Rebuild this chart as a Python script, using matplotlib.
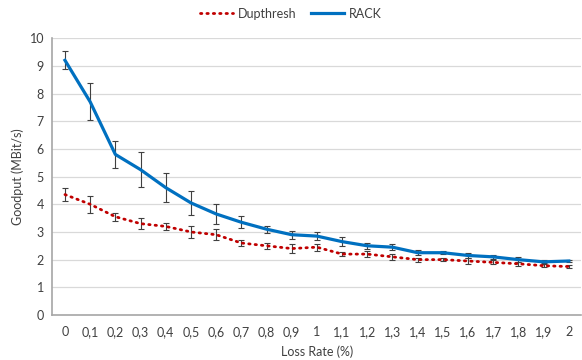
import matplotlib
matplotlib.use("Agg")
import matplotlib.pyplot as plt
import numpy as np

categories = ["0", "0,1", "0,2", "0,3", "0,4", "0,5", "0,6", "0,7", "0,8", "0,9", "1",
              "1,1", "1,2", "1,3", "1,4", "1,5", "1,6", "1,7", "1,8", "1,9", "2"]
rack = [9.2, 7.7, 5.8, 5.25, 4.6, 4.05, 3.65, 3.35, 3.1, 2.9, 2.85,
        2.65, 2.5, 2.45, 2.25, 2.25, 2.15, 2.1, 2.0, 1.92, 1.95]
rack_err = [0.32, 0.67, 0.5, 0.62, 0.53, 0.42, 0.35, 0.22, 0.13, 0.15, 0.15,
            0.15, 0.1, 0.12, 0.1, 0.05, 0.08, 0.07, 0.1, 0.05, 0.05]
dup = [4.35, 4.0, 3.55, 3.3, 3.2, 3.0, 2.9, 2.6, 2.5, 2.4, 2.45,
       2.2, 2.2, 2.1, 2.0, 2.0, 1.95, 1.9, 1.85, 1.78, 1.75]
dup_err = [0.25, 0.3, 0.15, 0.2, 0.12, 0.22, 0.2, 0.12, 0.1, 0.15, 0.13,
           0.08, 0.12, 0.1, 0.07, 0.05, 0.1, 0.07, 0.07, 0.05, 0.07]

plt.rcParams["font.family"] = ["Lato", "DejaVu Sans"]
plt.rcParams["font.size"] = 9

fig = plt.figure(figsize=(5.82, 3.6), dpi=100)
ax = fig.add_axes([0.090, 0.125, 0.909, 0.769])

x = np.arange(len(categories))
ax.errorbar(x, dup, yerr=dup_err, fmt="none", ecolor="#404040", elinewidth=0.8,
            capsize=2.5, capthick=0.8, zorder=3)
ax.errorbar(x, rack, yerr=rack_err, fmt="none", ecolor="#404040", elinewidth=0.8,
            capsize=2.5, capthick=0.8, zorder=3)
ax.plot(x, dup, color="#C00000", linewidth=2.0, linestyle=(0, (0.5, 1.8)),
        dash_capstyle="round", label="Dupthresh", zorder=4)
ax.plot(x, rack, color="#0070C0", linewidth=2.3, label="RACK", zorder=4)

ax.set_xlim(-0.5, len(categories) - 0.5)
ax.set_ylim(0, 10)
ax.set_yticks(range(0, 11))
ax.set_xticks(x)
ax.set_xticklabels(categories)
ax.tick_params(length=0, colors="#404040", labelsize=9)
ax.tick_params(axis="x", pad=8)
ax.tick_params(axis="y", pad=6)
ax.grid(axis="y", color="#D9D9D9", linewidth=0.9)
ax.set_axisbelow(True)
for s in ["top", "right"]:
    ax.spines[s].set_visible(False)
for s in ["left", "bottom"]:
    ax.spines[s].set_color("#A6A6A6")
    ax.spines[s].set_linewidth(1.2)

ax.set_xlabel("Loss Rate (%)", color="#404040", fontsize=9, labelpad=5)
ax.set_ylabel("Goodput (MBit/s)", color="#404040", fontsize=9, labelpad=4)

fig.legend(loc="upper center", bbox_to_anchor=(0.5, 1.01), ncol=2, frameon=False,
           fontsize=9, handlelength=2.6, handletextpad=0.4, columnspacing=1.2,
           labelcolor="#404040")

fig.savefig("out.png", dpi=100)
